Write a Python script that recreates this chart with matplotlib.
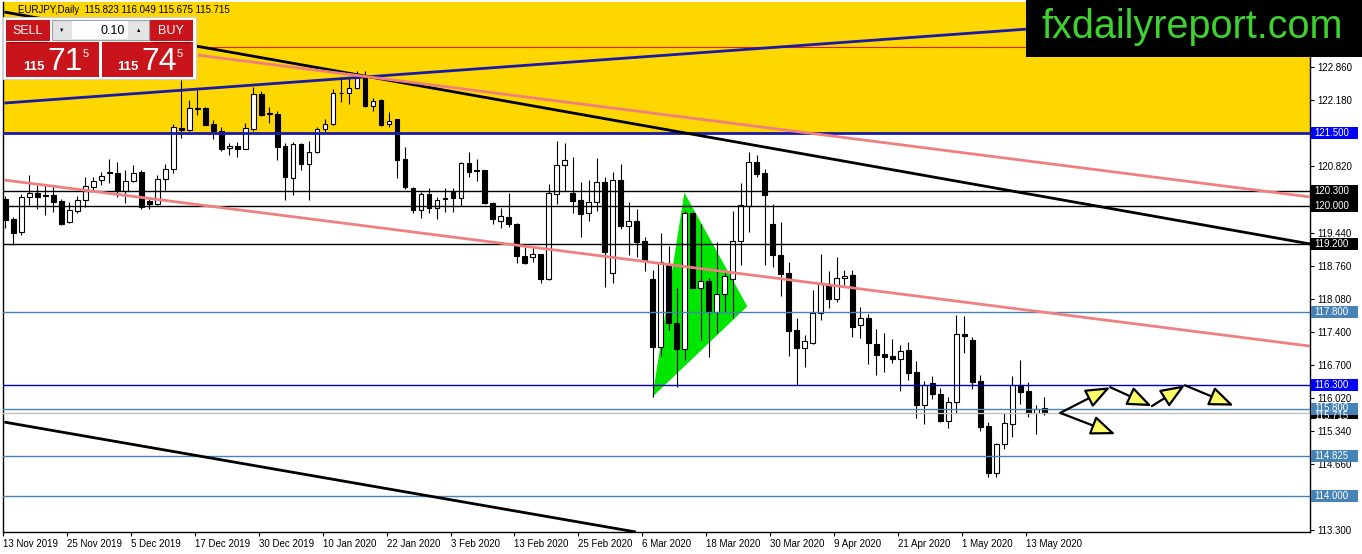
import matplotlib
matplotlib.use("Agg")
import matplotlib.pyplot as plt
from matplotlib.patches import Rectangle, Polygon, FancyArrowPatch
import matplotlib.transforms as mtransforms

plt.rcParams["font.family"] = ["Liberation Sans", "DejaVu Sans"]

# daily EURJPY candles, 13 Nov 2019 .. 15 May 2020
opens = [120.13, 119.72, 119.45, 120.17, 120.27, 120.22, 120.22, 120.10, 119.67, 119.90,
         120.12, 120.39, 120.53, 120.69, 120.67, 120.31, 120.52, 120.70, 120.10, 120.03,
         120.55, 120.75, 121.60, 121.56, 122.01, 122.01, 121.69, 121.55, 121.19, 121.23,
         121.18, 121.58, 122.31, 121.91, 121.89, 121.23, 120.58, 121.27, 120.87, 121.10,
         121.58, 121.68, 122.33, 122.32, 122.44, 122.65, 122.06, 122.18, 121.68, 121.79,
         120.96, 120.36, 119.92, 120.24, 119.96, 120.13, 120.28, 120.15, 120.89, 120.74,
         120.73, 120.06, 119.69, 119.76, 119.63, 118.97, 118.94, 119.00, 118.48, 120.25,
         120.83, 120.27, 120.12, 119.84, 120.07, 120.48, 118.61, 120.53, 119.59, 119.68,
         119.27, 118.48, 117.09, 118.77, 117.58, 117.05, 119.84, 118.31, 118.44, 117.81,
         118.17, 118.48, 119.27, 120.00, 120.91, 120.67, 119.63, 118.99, 118.60, 117.43,
         117.07, 117.16, 117.79, 118.39, 118.08, 118.50, 118.57, 117.53, 117.67, 117.15,
         116.93, 116.89, 116.84, 117.02, 116.57, 115.89, 116.33, 116.12, 115.56, 115.94,
         117.35, 117.22, 116.38, 115.45, 114.48, 115.07, 115.49, 116.29, 116.17, 115.72,
         115.823]
highs = [120.19, 119.76, 120.25, 120.63, 120.43, 120.45, 120.43, 120.14, 120.08, 120.21,
         120.60, 120.60, 120.70, 120.96, 120.91, 120.74, 120.84, 120.74, 120.13, 120.63,
         120.87, 121.69, 122.60, 122.18, 122.39, 122.03, 121.77, 121.63, 121.29, 121.32,
         121.70, 122.46, 122.37, 122.03, 121.96, 121.30, 121.32, 121.29, 121.34, 121.63,
         121.80, 122.40, 122.65, 122.65, 122.79, 122.79, 122.22, 122.20, 121.94, 121.80,
         121.22, 120.38, 120.29, 120.36, 120.17, 120.36, 120.36, 120.91, 121.10, 120.96,
         120.74, 120.07, 119.96, 120.27, 119.65, 119.15, 119.14, 119.01, 120.44, 121.33,
         121.30, 121.01, 120.49, 120.53, 120.98, 120.60, 120.69, 120.87, 120.08, 119.94,
         119.36, 118.67, 119.44, 119.17, 118.29, 119.90, 119.87, 119.63, 118.50, 119.24,
         118.65, 119.89, 120.47, 121.10, 121.05, 120.75, 120.03, 119.66, 118.83, 117.67,
         117.32, 118.26, 119.00, 118.65, 118.93, 118.68, 118.67, 117.90, 117.77, 117.46,
         117.36, 117.24, 117.12, 117.19, 116.79, 116.38, 116.48, 116.24, 116.04, 117.74,
         117.72, 117.28, 116.50, 115.54, 115.10, 115.71, 116.48, 116.81, 116.36, 115.89,
         116.049]
lows = [119.53, 119.19, 119.39, 120.01, 119.94, 119.81, 119.87, 119.61, 119.65, 119.84,
        119.98, 120.32, 120.43, 120.46, 120.18, 120.05, 120.49, 119.94, 119.94, 120.01,
        120.32, 120.68, 121.39, 121.55, 121.87, 121.66, 121.37, 121.13, 121.05, 121.01,
        121.17, 121.55, 121.85, 121.70, 120.94, 120.12, 120.22, 120.74, 120.12, 121.08,
        121.53, 121.67, 122.15, 122.11, 122.42, 122.04, 121.95, 121.64, 121.63, 120.58,
        120.34, 119.85, 119.75, 119.84, 119.72, 119.87, 119.86, 119.99, 120.60, 120.52,
        120.03, 119.62, 119.54, 119.56, 118.82, 118.79, 118.84, 118.41, 118.46, 120.03,
        120.30, 119.84, 119.36, 119.69, 119.90, 118.33, 118.41, 119.52, 118.98, 118.94,
        118.65, 116.05, 116.90, 117.43, 116.26, 116.81, 118.29, 117.22, 116.87, 117.36,
        117.81, 117.68, 118.77, 119.46, 120.60, 118.77, 118.74, 118.14, 116.90, 116.29,
        116.67, 117.15, 117.64, 117.88, 118.02, 118.36, 117.28, 117.26, 116.74, 116.51,
        116.57, 116.76, 116.18, 116.40, 115.61, 115.49, 116.00, 115.54, 115.40, 115.71,
        116.96, 116.21, 115.35, 114.39, 114.40, 114.97, 115.23, 115.91, 115.64, 115.28,
        115.675]
closes = [119.70, 119.44, 120.17, 120.27, 120.18, 120.20, 120.07, 119.63, 119.91, 120.12,
          120.40, 120.51, 120.61, 120.67, 120.30, 120.52, 120.68, 119.98, 120.03, 120.56,
          120.75, 121.62, 121.56, 122.01, 121.99, 121.67, 121.55, 121.18, 121.23, 121.18,
          121.60, 122.30, 121.87, 121.89, 121.22, 120.60, 121.27, 120.87, 121.10, 121.58,
          121.69, 122.33, 122.32, 122.44, 122.63, 122.06, 122.17, 121.67, 121.75, 120.94,
          120.39, 119.91, 120.24, 119.96, 120.11, 120.15, 120.16, 120.89, 120.70, 120.71,
          120.06, 119.72, 119.78, 119.62, 118.97, 118.81, 119.00, 118.48, 120.27, 120.83,
          120.94, 120.10, 119.83, 120.07, 120.48, 119.05, 120.54, 119.59, 119.68, 119.25,
          118.88, 117.09, 118.84, 117.57, 117.04, 119.84, 118.31, 118.44, 117.81, 118.17,
          118.55, 119.27, 120.01, 120.91, 120.65, 120.23, 118.99, 118.59, 117.42, 117.07,
          117.20, 117.79, 118.38, 118.08, 118.51, 118.55, 117.50, 117.67, 117.16, 116.91,
          116.88, 116.84, 117.00, 116.55, 115.88, 116.29, 116.12, 115.56, 115.94, 117.35,
          117.31, 116.36, 115.43, 114.48, 115.07, 115.52, 116.29, 116.16, 115.72, 115.81,
          115.715]

date_labels = ["13 Nov 2019", "25 Nov 2019", "5 Dec 2019", "17 Dec 2019", "30 Dec 2019",
               "10 Jan 2020", "22 Jan 2020", "3 Feb 2020", "13 Feb 2020", "25 Feb 2020",
               "6 Mar 2020", "18 Mar 2020", "30 Mar 2020", "9 Apr 2020", "21 Apr 2020",
               "1 May 2020", "13 May 2020"]
date_bars = [0, 8, 16, 24, 32, 40, 48, 56, 64, 72, 80, 88, 96, 104, 112, 120, 128]

price_ticks = [122.86, 122.18, 120.82, 119.44, 118.76, 118.08, 117.40, 116.70,
               116.02, 115.34, 114.66, 113.30]

# horizontal levels: (price, colour, width)
levels = [(121.5, "#1a1aa8", 2.0), (120.3, "black", 1.0), (120.0, "black", 1.0),
          (119.2, "black", 1.0), (117.8, "#4682b4", 1.0), (116.3, "#0000cc", 1.0),
          (115.8, "#4682b4", 1.0), (115.715, "#c0c0c0", 1.0), (114.825, "#4682b4", 1.0),
          (114.0, "#4682b4", 1.0), (123.28, "#e02020", 0.8)]
# price labels on the right scale: (price, text, box colour, text nudge in price)
level_tags = [(120.15, "", "black", 0.0), (121.5, "121.500", "#0000ff", 0.0),
              (120.3, "120.300", "black", 0.01), (120.0, "120.000", "black", -0.01),
              (119.2, "119.200", "black", 0.0), (117.8, "117.800", "#4682b4", 0.0),
              (116.3, "116.300", "#0000ff", 0.0), (115.715, "115.715", "black", -0.06),
              (115.8, "115.800", "#4682b4", 0.03), (114.825, "114.825", "#4682b4", 0.0),
              (114.0, "114.000", "#4682b4", 0.0)]

# trend lines (bar, price) pairs
black_top = ([-0.125, 163.25], [124.0, 119.21])
black_bottom = ([-0.125, 78.9], [115.53, 113.26])
blue_rise = ([-0.125, 163.25], [122.12, 124.07])
pink_top = ([24.1, 163.25], [123.11, 120.18])
pink_bottom = ([-0.125, 163.25], [120.53, 117.10])

tri_bars = [80.96, 84.96, 92.84]
tri_prices = [116.05, 120.27, 117.92]

# projected path arrows
path_bars = [132.0, 138.25, 143.46, 147.6, 153.7]
path_prices = [115.72, 116.25, 115.86, 116.29, 115.87]
alt_bars = [132.0, 138.9]
alt_prices = [115.72, 115.28]

W, H = 1362, 554
fig = plt.figure(figsize=(W / 100, H / 100), dpi=100)
fig.patch.set_facecolor("white")
ax = fig.add_axes([3 / W, 1 - 532 / H, 1307 / W, 530 / H])
ylo, yhi = 113.26, 124.207
ax.set_xlim(-0.125, 163.25)
ax.set_ylim(ylo, yhi)

# yellow zone + triangle in background
ax.add_patch(Rectangle((-1, 121.5), 170, 5, fc="#ffd700", ec="none", zorder=0))
ax.add_patch(Polygon(list(zip(tri_bars, tri_prices)), closed=True, fc="#00e600",
                     ec="none", zorder=1))

# candles
xs = list(range(len(opens)))
for i in xs:
    o, h, l, c = opens[i], highs[i], lows[i], closes[i]
    ax.plot([i, i], [l, h], color="black", lw=0.8, zorder=3, solid_capstyle="butt")
    bot = min(o, c)
    hgt = max(abs(c - o), 0.004)
    fc = "white" if c >= o else "black"
    ax.add_patch(Rectangle((i - 0.3, bot), 0.6, hgt, fc=fc, ec="black", lw=0.8, zorder=4))

for p, col, lw in levels:
    ax.axhline(p, color=col, lw=lw, zorder=5)

for (bx, py), col, lw in [(black_top, "black", 2.0), (black_bottom, "black", 2.0),
                          (blue_rise, "#1a1aa8", 2.0), (pink_top, "#f08080", 2.0),
                          (pink_bottom, "#f08080", 2.0)]:
    ax.plot(bx, py, color=col, lw=lw, zorder=6, solid_capstyle="butt")


def arrow(x0, y0, x1, y1):
    ax.add_patch(FancyArrowPatch((x0, y0), (x1, y1),
                                 arrowstyle="-|>,head_length=1.5,head_width=0.6",
                                 mutation_scale=10, fc="#ffff66", ec="black", lw=1.6,
                                 shrinkA=0, shrinkB=0, zorder=7))


for k in range(len(path_bars) - 1):
    arrow(path_bars[k], path_prices[k], path_bars[k + 1], path_prices[k + 1])
arrow(alt_bars[0], alt_prices[0], alt_bars[1], alt_prices[1])

# axes styling
ax.spines["top"].set_visible(False)
for s in ["left", "bottom", "right"]:
    ax.spines[s].set_linewidth(1.0)
ax.yaxis.tick_right()
ax.set_yticks(price_ticks)
ax.set_yticklabels([f"{v:.3f}" for v in price_ticks], fontsize=7)
ax.tick_params(axis="y", length=3, width=0.8, pad=2)
ax.set_xticks([b - 0.3 for b in date_bars])
ax.set_xticklabels(date_labels, fontsize=7, ha="left")
ax.tick_params(axis="x", length=3, width=0.8, pad=2)

trans = mtransforms.blended_transform_factory(ax.transAxes, ax.transData)
half = 6 / 48.4
for p, txt, col, dy in level_tags:
    ax.add_patch(Rectangle((1.0008, p - half), 0.036, 2 * half, fc=col, ec="none",
                           transform=trans, clip_on=False, zorder=10))
    if txt:
        ax.text(1.0035, p + dy, txt, transform=trans, fontsize=7, color="white",
                va="center", ha="left", clip_on=False, zorder=11)

# overlay in pixel coordinates for the trade panel, title and logo
ov = fig.add_axes([0, 0, 1, 1], zorder=20)
ov.set_xlim(0, W)
ov.set_ylim(H, 0)
ov.axis("off")
ov.patch.set_alpha(0)

ov.text(18, 10, "EURJPY,Daily  115.823 116.049 115.675 115.715", fontsize=7,
        va="center", ha="left", color="black")

red = "#c8141a"
ov.add_patch(Rectangle((3, 17), 193, 62, fc="white", ec="#d0d0d0", lw=0.8))
ov.add_patch(Rectangle((6, 20), 44, 21, fc=red, ec="none"))
ov.add_patch(Rectangle((150, 20), 43, 21, fc=red, ec="none"))
ov.add_patch(Rectangle((52, 20), 97, 20, fc="#e4e4e4", ec="#a0a0a0", lw=0.8))
ov.add_patch(Rectangle((72, 21), 56, 18, fc="white", ec="none"))
ov.text(28, 31, "SELL", fontsize=9, color="white", ha="center", va="center")
ov.text(171, 31, "BUY", fontsize=9, color="white", ha="center", va="center")
ov.text(62, 30, "▼", fontsize=4, color="black", ha="center", va="center")
ov.text(139, 30, "▲", fontsize=4, color="black", ha="center", va="center")
ov.text(125, 30.5, "0.10", fontsize=9, color="black", ha="right", va="center")
ov.add_patch(Rectangle((6, 42), 93, 35, fc=red, ec="none"))
ov.add_patch(Rectangle((102, 42), 91, 35, fc=red, ec="none"))
ov.plot([9, 47], [42, 42], color="#8a0a0a", lw=0.8)
ov.plot([153, 190], [42, 42], color="#8a0a0a", lw=0.8)
for x0, big in [(23, "71"), (117, "74")]:
    ov.text(x0, 70, "115", fontsize=9.5, color="white", ha="left", va="baseline",
            fontweight="bold")
    ov.text(x0 + 24, 70.5, big, fontsize=23, color="white", ha="left", va="baseline")
    ov.text(x0 + 63, 54, "5", fontsize=8, color="white", ha="center", va="center")

ov.add_patch(Rectangle((1026, 0), W - 1026, 57, fc="black", ec="none"))
ov.text(1042, 38, "fxdailyreport.com", fontsize=28.5, color="#3fd12f",
        ha="left", va="baseline")

fig.savefig("out.png", dpi=100)
